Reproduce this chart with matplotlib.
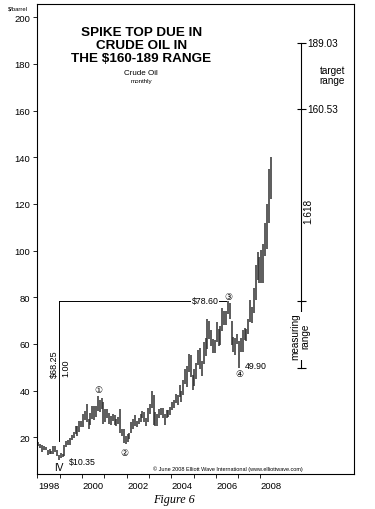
import matplotlib
matplotlib.use('Agg')
import matplotlib.pyplot as plt
import numpy as np

plt.rcParams['font.family'] = ['Liberation Sans', 'DejaVu Sans']

# Crude oil monthly bars, Jan 1998 .. Jun 2008 (high / low, $ per barrel)
highs = [
    18.2, 17.0, 16.9, 16.5, 15.9, 14.5, 14.9, 14.2, 16.4, 16.2, 14.7, 12.5,   # 1998
    13.3, 13.0, 16.8, 18.5, 19.0, 19.6, 21.0, 22.4, 25.0, 24.9, 27.1, 27.2,   # 1999
    30.0, 31.3, 34.4, 28.0, 30.4, 33.4, 33.3, 33.5, 37.8, 36.1, 37.0, 35.0,   # 2000
    32.2, 32.2, 30.4, 29.1, 29.8, 29.4, 27.8, 28.9, 32.0, 23.5, 23.4, 20.7,   # 2001
    21.6, 22.0, 26.6, 28.0, 29.4, 27.0, 28.4, 30.0, 31.4, 30.8, 28.3, 32.7,   # 2002
    34.4, 39.9, 38.0, 31.0, 30.2, 32.2, 32.5, 32.5, 30.2, 31.8, 31.9, 33.0,   # 2003
    35.2, 36.0, 38.4, 38.3, 42.3, 40.0, 44.6, 49.4, 50.5, 55.7, 55.2, 46.5,   # 2004
    49.4, 52.0, 57.6, 58.3, 52.7, 60.9, 62.5, 70.8, 69.8, 66.2, 62.3, 61.9,   # 2005
    69.2, 66.5, 67.9, 75.4, 74.2, 74.0, 78.6, 77.7, 70.0, 62.8, 62.5, 64.2,   # 2006
    61.3, 62.5, 66.0, 66.9, 66.5, 70.8, 78.8, 76.0, 83.9, 94.0, 99.3, 97.3,   # 2007
    100.1, 103.0, 111.8, 119.9, 135.1, 139.9,                                 # 2008
]
lows = [
    16.1, 15.4, 13.9, 14.8, 14.4, 12.3, 13.0, 12.7, 13.0, 13.9, 12.2, 10.35,  # 1998
    11.3, 11.4, 11.9, 15.8, 16.8, 16.6, 19.0, 19.8, 21.6, 20.6, 22.1, 24.4,   # 1999
    24.4, 27.5, 26.6, 23.7, 25.5, 28.0, 27.6, 28.6, 31.5, 30.7, 32.0, 25.9,   # 2000
    26.4, 28.3, 25.8, 25.5, 26.9, 25.5, 25.0, 25.8, 21.8, 20.6, 17.5, 17.1,   # 2001
    17.9, 19.2, 21.7, 23.5, 24.8, 24.3, 25.8, 26.5, 28.5, 26.5, 25.0, 26.4,   # 2002
    30.0, 32.5, 25.2, 24.9, 25.0, 28.5, 29.5, 28.3, 25.5, 28.4, 28.6, 29.4,   # 2003
    31.8, 32.5, 34.6, 33.8, 37.1, 35.2, 38.0, 42.9, 41.6, 48.2, 45.7, 40.2,   # 2004
    42.1, 45.0, 51.0, 49.2, 46.2, 51.4, 55.0, 58.0, 62.2, 59.2, 56.0, 56.1,   # 2005
    60.9, 59.3, 59.6, 65.6, 68.0, 68.1, 72.9, 70.5, 59.5, 56.6, 55.4, 60.0,   # 2006
    49.9, 56.7, 56.5, 61.6, 61.3, 64.3, 69.4, 69.0, 73.1, 79.0, 87.5, 86.2,   # 2007
    86.1, 86.1, 97.5, 100.6, 112.0, 122.0,                                    # 2008
]

start_year = 1998
year_ticks = list(range(1998, 2009))
year_labels = ['1998', '2000', '2002', '2004', '2006', '2008']
price_ticks = list(range(20, 201, 20))

# wave projection levels
target_levels = [189.03, 160.53]
measure_levels = [78.60, 49.90]
wave_low = 10.35

fig = plt.figure(figsize=(3.75, 5.1), dpi=100)
ax = fig.add_axes([0.0987, 0.0686, 0.8453, 0.9224])

months = np.arange(len(highs))
x = start_year + (months + 0.5) / 12.0
ax.vlines(x, lows, highs, color='#303030', lw=1.1)

ax.set_xlim(1997.98, 2012.2)
ax.set_ylim(4.3, 205.8)

ax.set_xticks(year_ticks)
ax.set_xticklabels([])
ax.set_xticks([int(y) + 0.5 for y in year_labels], minor=True)
ax.set_xticklabels(year_labels, minor=True)
ax.tick_params(axis='x', which='major', length=3, width=0.6, direction='out')
ax.tick_params(axis='x', which='minor', length=0, labelsize=6.8, pad=5)
ax.set_yticks(price_ticks)
ax.tick_params(axis='y', length=3, width=0.6, labelsize=6.8, pad=2)
for s in ax.spines.values():
    s.set_linewidth(0.8)

# right side: target range and measuring range
xr = 2009.83
ax.plot([xr, xr], [measure_levels[1], target_levels[0]], color='black', lw=0.8)
ax.hlines(target_levels + measure_levels, xr - 0.2, xr + 0.2, color='black', lw=0.8)
for lv in target_levels:
    ax.text(xr + 0.27, lv, '%.2f' % lv, fontsize=7.2, va='center', ha='left')
ax.text(2011.23, 175.2, 'target\nrange', fontsize=7.2, ha='center', va='center',
        linespacing=1.1)
ax.text(2010.15, 117, '1.618', fontsize=7.2, rotation=90, ha='center', va='center')
ax.text(xr - 0.05, 63.5, 'measuring\nrange', fontsize=7.2, rotation=90, ha='center',
        va='center', linespacing=1.0,
        bbox=dict(fc='white', ec='none', pad=0.5))

# left side: measuring leg from the 1998 low
xl = start_year + 11.5 / 12.0
ax.plot([xl, xl], [18.3, measure_levels[0]], color='black', lw=0.7)
ax.plot([xl, 2006.48], [measure_levels[0], measure_levels[0]], color='black', lw=0.7)
ax.text(2005.53, measure_levels[0], '$78.60', fontsize=6.3, ha='center', va='center',
        bbox=dict(fc='white', ec='none', pad=0.3))
ax.text(1998.78, 51.7, '$68.25', fontsize=6.5, rotation=90, ha='center', va='center')
ax.text(1999.29, 49.9, '1.00', fontsize=6.5, rotation=90, ha='center', va='center')
ax.text(xl, 7.4, 'IV', fontsize=7.2, ha='center', va='center')
ax.text(1999.39, 9.7, '$%.2f' % wave_low, fontsize=6.3, ha='left', va='center')
ax.text(2007.28, 50.7, '%.2f' % measure_levels[1], fontsize=6.3, ha='left', va='center')

# wave labels
for lab, wx, wy in [('\u2460', 2000.74, 40.3), ('\u2461', 2001.90, 13.6),
                    ('\u2462', 2006.57, 80.5), ('\u2463', 2007.06, 47.5)]:
    ax.text(wx, wy, lab, fontsize=6.5, ha='center', va='center', family='DejaVu Sans')

# title block
ax.text(2002.66, 188.1, 'SPIKE TOP DUE IN\nCRUDE OIL IN\nTHE $160-189 RANGE',
        fontsize=9.7, fontweight='bold', ha='center', va='center', linespacing=1.15)
ax.text(2002.66, 176.1, 'Crude Oil', fontsize=5.8, ha='center', va='center')
ax.text(2002.66, 173.0, 'monthly', fontsize=4.5, ha='center', va='center')

ax.text(2003.2, 6.6, '\u00a9 June 2008 Elliott Wave International (www.elliottwave.com)',
        fontsize=4.0, ha='left', va='center')

fig.text(0.047, 0.982, '$/barrel', fontsize=4.2, ha='center', va='center')
fig.text(0.464, 0.0196, 'Figure 6', fontsize=8.7, style='italic', ha='center',
         va='center', family='Liberation Serif')

fig.savefig('out.png', dpi=100)
